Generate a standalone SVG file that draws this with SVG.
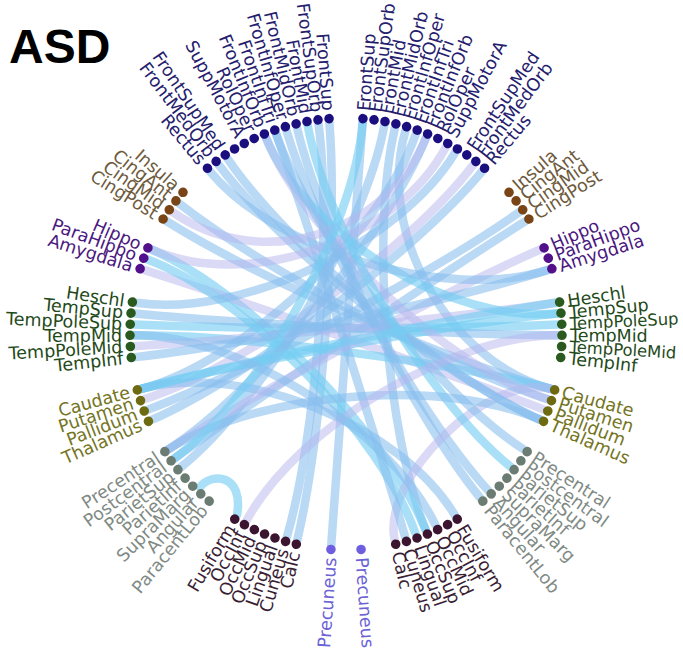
<svg xmlns="http://www.w3.org/2000/svg" width="683" height="648" viewBox="0 0 683 648">
<style>
.e{fill:none;stroke-width:8.5;stroke-linecap:round}
.b{stroke:#86bdee;stroke-opacity:.58}
.c{stroke:#74cdf2;stroke-opacity:.62}
.l{stroke:#b6b6ee;stroke-opacity:.5}
text{font-family:"DejaVu Sans","Liberation Sans",sans-serif;font-size:17.5px;dominant-baseline:central}
.R text{text-anchor:start}
.L text{text-anchor:end}
.R text.fit{font-size:16.4px}
.fr use{fill:#1b0f80}.fr text{fill:#25206e}
.cg use{fill:#7a4516}.cg text{fill:#6e5a3c}
.lm use{fill:#52108a}.lm text{fill:#4a1880}
.tp use{fill:#2b5a1e}.tp text{fill:#1f4a1a}
.sc use{fill:#6e6a12}.sc text{fill:#74741e}
.pa use{fill:#6b7d72}.pa text{fill:#7f8a84}
.oc use{fill:#3b1430}.oc text{fill:#3a1e34}
.pc use{fill:#6f5ee0}.pc text{fill:#6b62d6}
.title{font-family:"Liberation Sans",Arial,sans-serif;font-weight:bold;font-size:48px;fill:#000;dominant-baseline:auto}
</style>
<defs>
<circle id="d" cx="346" cy="118" r="4.8"/>
</defs>
<text class="title" x="9" y="63">ASD</text>
<g id="connectors">
<path class="e b" d="M329.4,122.7 C337.7,228.4 321.6,437.2 297.2,540.3"/>
<path class="e b" d="M318.5,123.8 C332.3,228.9 316.4,435.8 286.7,537.5"/>
<path class="e b" d="M362.6,122.7 C354.3,228.4 338.6,439.8 331.2,545.5"/>
<path class="e b" d="M395,127.7 C370.5,230.9 386,432.2 425.9,530.4"/>
<path class="e b" d="M405.5,130.5 C375.8,232.3 448.4,361.5 550.8,388.9"/>
<path class="e b" d="M482,171.4 C414,252.7 249,376.9 152.1,419.7"/>
<path class="e l" d="M473.4,164.6 C409.7,249.3 245.2,366.7 144.3,399.3"/>
<path class="e b" d="M166.5,221.2 C256.3,277.6 448.4,361.5 550.8,388.9"/>
<path class="e b" d="M525.5,221.2 C435.8,277.6 260.2,396.3 174.4,458.5"/>
<path class="e c" d="M151.6,249.5 C248.8,291.8 386,432.2 425.9,530.4"/>
<path class="e l" d="M143.9,269.9 C245,302 445,371.8 544,409.6"/>
<path class="e c" d="M134.2,324.4 C240.1,329.2 451.9,329.2 557.8,324.4"/>
<path class="e c" d="M134,335.3 C240,334.7 448.4,361.5 550.8,388.9"/>
<path class="e b" d="M135,313.5 C240.5,323.8 452,334.7 558,335.3"/>
<path class="e l" d="M134.4,346.2 C240.2,340.1 450.9,318.4 555.7,302.7"/>
<path class="e b" d="M141.2,388.9 C243.6,361.5 381,234 415.9,133.9"/>
<path class="e c" d="M141.2,388.9 C243.6,361.5 451.5,323.8 557,313.5"/>
<path class="e b" d="M168.2,449.5 C257.1,391.8 386.1,235.9 426.1,137.7"/>
<path class="e b" d="M181,467.1 C263.5,400.6 365.2,229.8 384.3,125.5"/>
<path class="e c" d="M200,487 C212,472 244,474 237,515"/>
<path class="e b" d="M480.3,498 C413.2,416 321.5,230.9 297,127.7"/>
<path class="e b" d="M488.5,490.9 C417.3,412.5 316.3,232.3 286.5,130.5"/>
<path class="e b" d="M455.2,515.7 C400.6,424.9 243.6,361.5 141.2,388.9"/>
<path class="e l" d="M394.8,540.3 C380.2,478.4 489.4,372.4 550.8,388.9"/>
<path class="e c" d="M415.7,534.2 C380.9,434.1 246.8,296.8 147.5,259.6"/>
<path class="e b" d="M405.3,537.5 C375.7,435.8 311,234 276.1,133.9"/>
<path class="e b" d="M519.4,212.1 C432.7,273.1 247,371.8 148,409.6"/>
<path class="e l" d="M540.4,249.5 C443.2,291.8 257.1,391.8 168.2,449.5"/>
<path class="e b" d="M548.1,269.9 C447,302 240.7,345.6 135.3,357.1"/>
<path class="e c" d="M557,313.5 C451.5,323.8 306,235.9 265.9,137.7"/>
<path class="e b" d="M539.9,419.7 C443,376.9 286.7,246.2 227.4,158.3"/>
<path class="e b" d="M547.7,399.3 C446.9,366.7 262.5,268.7 179,203.4"/>
<path class="e b" d="M210,171.4 C278,252.7 447,302 548.1,269.9"/>
<path class="e b" d="M218.6,164.6 C282.3,249.3 443,376.9 539.9,419.7"/>
<path class="e l" d="M265.9,137.7 C306,235.9 446.9,366.7 547.7,399.3"/>
<path class="e l" d="M426.1,137.7 C386.1,235.9 259.3,273.1 172.6,212.1"/>
<path class="e l" d="M445.9,147 C396,240.5 248.8,291.8 151.6,249.5"/>
<path class="e b" d="M455.3,152.4 C400.7,243.2 241.2,318.4 136.3,302.7"/>
<path class="e b" d="M276.1,133.9 C311,234 434.9,391.8 523.8,449.5"/>
<path class="e c" d="M307.7,125.5 C326.9,229.8 428.5,400.6 511,467.1"/>
<path class="e c" d="M555.7,302.7 C450.9,318.4 243.6,361.5 141.2,388.9"/>
<path class="e b" d="M168.2,449.5 C257.1,391.8 443,376.9 539.9,419.7"/>
<path class="e c" d="M174.4,458.5 C260.2,396.3 354.3,228.4 362.6,122.7"/>
<path class="e l" d="M246.3,521.1 C296.2,427.6 452,334.7 558,335.3"/>
<path class="e b" d="M435.9,526 C391,430 240,334.7 134,335.3"/>
</g>
<g class="R fr">
<g id="R_FrontSup" transform="rotate(4.5 346 334)"><use href="#d"/><text transform="translate(346,110) rotate(-90)">FrontSup</text></g>
<g id="R_FrontSupOrb" transform="rotate(7.45 346 334)"><use href="#d"/><text transform="translate(346,110) rotate(-90)">FrontSupOrb</text></g>
<g id="R_FrontMid" transform="rotate(10.4 346 334)"><use href="#d"/><text transform="translate(346,110) rotate(-90)">FrontMid</text></g>
<g id="R_FrontMidOrb" transform="rotate(13.35 346 334)"><use href="#d"/><text transform="translate(346,110) rotate(-90)">FrontMidOrb</text></g>
<g id="R_FrontInfOper" transform="rotate(16.3 346 334)"><use href="#d"/><text transform="translate(346,110) rotate(-90)">FrontInfOper</text></g>
<g id="R_FrontInfTri" transform="rotate(19.25 346 334)"><use href="#d"/><text transform="translate(346,110) rotate(-90)">FrontInfTri</text></g>
<g id="R_FrontInfOrb" transform="rotate(22.2 346 334)"><use href="#d"/><text transform="translate(346,110) rotate(-90)">FrontInfOrb</text></g>
<g id="R_RolOper" transform="rotate(25.15 346 334)"><use href="#d"/><text transform="translate(346,110) rotate(-90)">RolOper</text></g>
<g id="R_SuppMotorA" transform="rotate(28.1 346 334)"><use href="#d"/><text transform="translate(346,110) rotate(-90)">SuppMotorA</text></g>
<g id="R_Olf" transform="rotate(31.05 346 334)"><use href="#d"/></g>
<g id="R_FrontSupMed" transform="rotate(34 346 334)"><use href="#d"/><text transform="translate(346,110) rotate(-90)">FrontSupMed</text></g>
<g id="R_FrontMedOrb" transform="rotate(36.95 346 334)"><use href="#d"/><text transform="translate(346,110) rotate(-90)">FrontMedOrb</text></g>
<g id="R_Rectus" transform="rotate(39.9 346 334)"><use href="#d"/><text transform="translate(346,110) rotate(-90)">Rectus</text></g>
</g>
<g class="R cg">
<g id="R_Insula" transform="rotate(49 346 334)"><use href="#d"/><text transform="translate(346,110) rotate(-90)">Insula</text></g>
<g id="R_CingAnt" transform="rotate(51.95 346 334)"><use href="#d"/><text transform="translate(346,110) rotate(-90)">CingAnt</text></g>
<g id="R_CingMid" transform="rotate(54.9 346 334)"><use href="#d"/><text transform="translate(346,110) rotate(-90)">CingMid</text></g>
<g id="R_CingPost" transform="rotate(57.85 346 334)"><use href="#d"/><text transform="translate(346,110) rotate(-90)">CingPost</text></g>
</g>
<g class="R lm">
<g id="R_Hippo" transform="rotate(66.5 346 334)"><use href="#d"/><text transform="translate(346,110) rotate(-90)">Hippo</text></g>
<g id="R_ParaHippo" transform="rotate(69.45 346 334)"><use href="#d"/><text transform="translate(346,110) rotate(-90)">ParaHippo</text></g>
<g id="R_Amygdala" transform="rotate(72.4 346 334)"><use href="#d"/><text transform="translate(346,110) rotate(-90)">Amygdala</text></g>
</g>
<g class="R tp">
<g id="R_Heschl" transform="rotate(81.5 346 334)"><use href="#d"/><text transform="translate(346,110) rotate(-90)">Heschl</text></g>
<g id="R_TempSup" transform="rotate(84.45 346 334)"><use href="#d"/><text transform="translate(346,110) rotate(-90)">TempSup</text></g>
<g id="R_TempPoleSup" transform="rotate(87.4 346 334)"><use href="#d"/><text class="fit" transform="translate(346,110) rotate(-90)">TempPoleSup</text></g>
<g id="R_TempMid" transform="rotate(90.35 346 334)"><use href="#d"/><text transform="translate(346,110) rotate(-90)">TempMid</text></g>
<g id="R_TempPoleMid" transform="rotate(93.3 346 334)"><use href="#d"/><text class="fit" transform="translate(346,110) rotate(-90)">TempPoleMid</text></g>
<g id="R_TempInf" transform="rotate(96.25 346 334)"><use href="#d"/><text transform="translate(346,110) rotate(-90)">TempInf</text></g>
</g>
<g class="R sc">
<g id="R_Caudate" transform="rotate(105 346 334)"><use href="#d"/><text transform="translate(346,110) rotate(-90)">Caudate</text></g>
<g id="R_Putamen" transform="rotate(107.95 346 334)"><use href="#d"/><text transform="translate(346,110) rotate(-90)">Putamen</text></g>
<g id="R_Pallidum" transform="rotate(110.9 346 334)"><use href="#d"/><text transform="translate(346,110) rotate(-90)">Pallidum</text></g>
<g id="R_Thalamus" transform="rotate(113.85 346 334)"><use href="#d"/><text transform="translate(346,110) rotate(-90)">Thalamus</text></g>
</g>
<g class="R pa">
<g id="R_Precentral" transform="rotate(123 346 334)"><use href="#d"/><text transform="translate(346,110) rotate(-90)">Precentral</text></g>
<g id="R_Postcentral" transform="rotate(125.95 346 334)"><use href="#d"/><text transform="translate(346,110) rotate(-90)">Postcentral</text></g>
<g id="R_ParietSup" transform="rotate(128.9 346 334)"><use href="#d"/><text transform="translate(346,110) rotate(-90)">ParietSup</text></g>
<g id="R_ParietInf" transform="rotate(131.85 346 334)"><use href="#d"/><text transform="translate(346,110) rotate(-90)">ParietInf</text></g>
<g id="R_SupraMarg" transform="rotate(134.8 346 334)"><use href="#d"/><text transform="translate(346,110) rotate(-90)">SupraMarg</text></g>
<g id="R_Angular" transform="rotate(137.75 346 334)"><use href="#d"/><text transform="translate(346,110) rotate(-90)">Angular</text></g>
<g id="R_ParacentLob" transform="rotate(140.7 346 334)"><use href="#d"/><text transform="translate(346,110) rotate(-90)">ParacentLob</text></g>
</g>
<g class="R oc">
<g id="R_Fusiform" transform="rotate(149 346 334)"><use href="#d"/><text transform="translate(346,110) rotate(-90)">Fusiform</text></g>
<g id="R_OccInf" transform="rotate(151.95 346 334)"><use href="#d"/><text transform="translate(346,110) rotate(-90)">OccInf</text></g>
<g id="R_OccMid" transform="rotate(154.9 346 334)"><use href="#d"/><text transform="translate(346,110) rotate(-90)">OccMid</text></g>
<g id="R_OccSup" transform="rotate(157.85 346 334)"><use href="#d"/><text transform="translate(346,110) rotate(-90)">OccSup</text></g>
<g id="R_Lingual" transform="rotate(160.8 346 334)"><use href="#d"/><text transform="translate(346,110) rotate(-90)">Lingual</text></g>
<g id="R_Cuneus" transform="rotate(163.75 346 334)"><use href="#d"/><text transform="translate(346,110) rotate(-90)">Cuneus</text></g>
<g id="R_Calc" transform="rotate(166.7 346 334)"><use href="#d"/><text transform="translate(346,110) rotate(-90)">Calc</text></g>
</g>
<g class="R pc">
<g id="R_Precuneus" transform="rotate(176 346 334)"><use href="#d"/><text transform="translate(346,110) rotate(-90)">Precuneus</text></g>
</g>
<g class="L fr">
<g id="L_FrontSup" transform="rotate(-4.5 346 334)"><use href="#d"/><text transform="translate(346,110) rotate(90)">FrontSup</text></g>
<g id="L_FrontSupOrb" transform="rotate(-7.45 346 334)"><use href="#d"/><text transform="translate(346,110) rotate(90)">FrontSupOrb</text></g>
<g id="L_FrontMid" transform="rotate(-10.4 346 334)"><use href="#d"/><text transform="translate(346,110) rotate(90)">FrontMid</text></g>
<g id="L_FrontMidOrb" transform="rotate(-13.35 346 334)"><use href="#d"/><text transform="translate(346,110) rotate(90)">FrontMidOrb</text></g>
<g id="L_FrontInfOper" transform="rotate(-16.3 346 334)"><use href="#d"/><text transform="translate(346,110) rotate(90)">FrontInfOper</text></g>
<g id="L_FrontInfTri" transform="rotate(-19.25 346 334)"><use href="#d"/><text transform="translate(346,110) rotate(90)">FrontInfTri</text></g>
<g id="L_FrontInfOrb" transform="rotate(-22.2 346 334)"><use href="#d"/><text transform="translate(346,110) rotate(90)">FrontInfOrb</text></g>
<g id="L_RolOper" transform="rotate(-25.15 346 334)"><use href="#d"/><text transform="translate(346,110) rotate(90)">RolOper</text></g>
<g id="L_SuppMotorA" transform="rotate(-28.1 346 334)"><use href="#d"/><text transform="translate(346,110) rotate(90)">SuppMotorA</text></g>
<g id="L_Olf" transform="rotate(-31.05 346 334)"><use href="#d"/></g>
<g id="L_FrontSupMed" transform="rotate(-34 346 334)"><use href="#d"/><text transform="translate(346,110) rotate(90)">FrontSupMed</text></g>
<g id="L_FrontMedOrb" transform="rotate(-36.95 346 334)"><use href="#d"/><text transform="translate(346,110) rotate(90)">FrontMedOrb</text></g>
<g id="L_Rectus" transform="rotate(-39.9 346 334)"><use href="#d"/><text transform="translate(346,110) rotate(90)">Rectus</text></g>
</g>
<g class="L cg">
<g id="L_Insula" transform="rotate(-49 346 334)"><use href="#d"/><text transform="translate(346,110) rotate(90)">Insula</text></g>
<g id="L_CingAnt" transform="rotate(-51.95 346 334)"><use href="#d"/><text transform="translate(346,110) rotate(90)">CingAnt</text></g>
<g id="L_CingMid" transform="rotate(-54.9 346 334)"><use href="#d"/><text transform="translate(346,110) rotate(90)">CingMid</text></g>
<g id="L_CingPost" transform="rotate(-57.85 346 334)"><use href="#d"/><text transform="translate(346,110) rotate(90)">CingPost</text></g>
</g>
<g class="L lm">
<g id="L_Hippo" transform="rotate(-66.5 346 334)"><use href="#d"/><text transform="translate(346,110) rotate(90)">Hippo</text></g>
<g id="L_ParaHippo" transform="rotate(-69.45 346 334)"><use href="#d"/><text transform="translate(346,110) rotate(90)">ParaHippo</text></g>
<g id="L_Amygdala" transform="rotate(-72.4 346 334)"><use href="#d"/><text transform="translate(346,110) rotate(90)">Amygdala</text></g>
</g>
<g class="L tp">
<g id="L_Heschl" transform="rotate(-81.5 346 334)"><use href="#d"/><text transform="translate(346,110) rotate(90)">Heschl</text></g>
<g id="L_TempSup" transform="rotate(-84.45 346 334)"><use href="#d"/><text transform="translate(346,110) rotate(90)">TempSup</text></g>
<g id="L_TempPoleSup" transform="rotate(-87.4 346 334)"><use href="#d"/><text transform="translate(346,110) rotate(90)">TempPoleSup</text></g>
<g id="L_TempMid" transform="rotate(-90.35 346 334)"><use href="#d"/><text transform="translate(346,110) rotate(90)">TempMid</text></g>
<g id="L_TempPoleMid" transform="rotate(-93.3 346 334)"><use href="#d"/><text transform="translate(346,110) rotate(90)">TempPoleMid</text></g>
<g id="L_TempInf" transform="rotate(-96.25 346 334)"><use href="#d"/><text transform="translate(346,110) rotate(90)">TempInf</text></g>
</g>
<g class="L sc">
<g id="L_Caudate" transform="rotate(-105 346 334)"><use href="#d"/><text transform="translate(346,110) rotate(90)">Caudate</text></g>
<g id="L_Putamen" transform="rotate(-107.95 346 334)"><use href="#d"/><text transform="translate(346,110) rotate(90)">Putamen</text></g>
<g id="L_Pallidum" transform="rotate(-110.9 346 334)"><use href="#d"/><text transform="translate(346,110) rotate(90)">Pallidum</text></g>
<g id="L_Thalamus" transform="rotate(-113.85 346 334)"><use href="#d"/><text transform="translate(346,110) rotate(90)">Thalamus</text></g>
</g>
<g class="L pa">
<g id="L_Precentral" transform="rotate(-123 346 334)"><use href="#d"/><text transform="translate(346,110) rotate(90)">Precentral</text></g>
<g id="L_Postcentral" transform="rotate(-125.95 346 334)"><use href="#d"/><text transform="translate(346,110) rotate(90)">Postcentral</text></g>
<g id="L_ParietSup" transform="rotate(-128.9 346 334)"><use href="#d"/><text transform="translate(346,110) rotate(90)">ParietSup</text></g>
<g id="L_ParietInf" transform="rotate(-131.85 346 334)"><use href="#d"/><text transform="translate(346,110) rotate(90)">ParietInf</text></g>
<g id="L_SupraMarg" transform="rotate(-134.8 346 334)"><use href="#d"/><text transform="translate(346,110) rotate(90)">SupraMarg</text></g>
<g id="L_Angular" transform="rotate(-137.75 346 334)"><use href="#d"/><text transform="translate(346,110) rotate(90)">Angular</text></g>
<g id="L_ParacentLob" transform="rotate(-140.7 346 334)"><use href="#d"/><text transform="translate(346,110) rotate(90)">ParacentLob</text></g>
</g>
<g class="L oc">
<g id="L_Fusiform" transform="rotate(-149 346 334)"><use href="#d"/><text transform="translate(346,110) rotate(90)">Fusiform</text></g>
<g id="L_OccInf" transform="rotate(-151.95 346 334)"><use href="#d"/><text transform="translate(346,110) rotate(90)">OccInf</text></g>
<g id="L_OccMid" transform="rotate(-154.9 346 334)"><use href="#d"/><text transform="translate(346,110) rotate(90)">OccMid</text></g>
<g id="L_OccSup" transform="rotate(-157.85 346 334)"><use href="#d"/><text transform="translate(346,110) rotate(90)">OccSup</text></g>
<g id="L_Lingual" transform="rotate(-160.8 346 334)"><use href="#d"/><text transform="translate(346,110) rotate(90)">Lingual</text></g>
<g id="L_Cuneus" transform="rotate(-163.75 346 334)"><use href="#d"/><text transform="translate(346,110) rotate(90)">Cuneus</text></g>
<g id="L_Calc" transform="rotate(-166.7 346 334)"><use href="#d"/><text transform="translate(346,110) rotate(90)">Calc</text></g>
</g>
<g class="L pc">
<g id="L_Precuneus" transform="rotate(-176 346 334)"><use href="#d"/><text transform="translate(346,110) rotate(90)">Precuneus</text></g>
</g>
</svg>
